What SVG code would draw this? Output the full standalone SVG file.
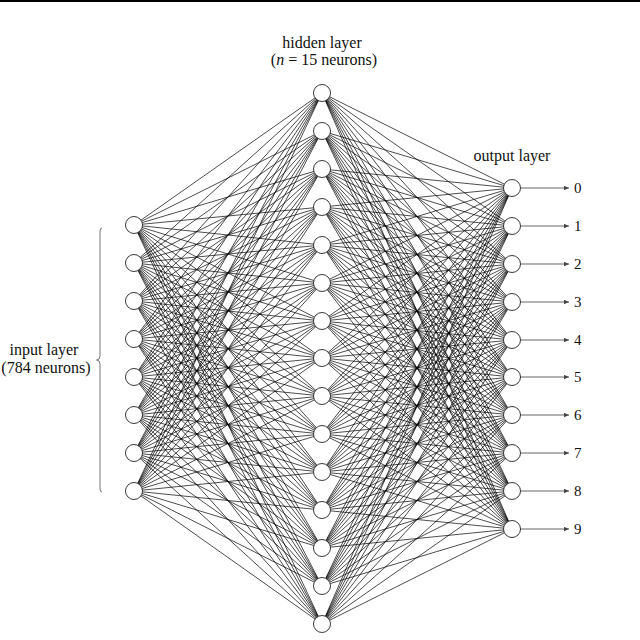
<svg xmlns="http://www.w3.org/2000/svg" width="640" height="640" viewBox="0 0 640 640">
<defs>
<style>
.e{stroke:#000;stroke-width:0.7;fill:none}
.n{fill:#fff;stroke:#222;stroke-width:0.9}
.t{font-family:"Liberation Serif","DejaVu Serif",serif;font-size:16px;fill:#111}
.d{font-family:"Liberation Serif","DejaVu Serif",serif;font-size:15px;fill:#111}
.a{stroke:#555;stroke-width:0.9;fill:none}
</style>
<marker id="ah" viewBox="0 0 5 5" refX="5" refY="2.5" markerWidth="5" markerHeight="5" markerUnits="userSpaceOnUse" orient="auto"><path d="M0,0.3 L5,2.5 L0,4.7 Z" fill="#444"/></marker>
</defs>
<rect width="640" height="640" fill="#fff"/>
<rect x="0" y="0" width="640" height="2" fill="#000"/>
<g id="connectors">
<g class="e">
<line x1="134" y1="225" x2="322" y2="93"/><line x1="134" y1="225" x2="322" y2="131"/><line x1="134" y1="225" x2="322" y2="169"/><line x1="134" y1="225" x2="322" y2="207"/><line x1="134" y1="225" x2="322" y2="245"/><line x1="134" y1="225" x2="322" y2="283"/><line x1="134" y1="225" x2="322" y2="321"/><line x1="134" y1="225" x2="322" y2="358"/><line x1="134" y1="225" x2="322" y2="396"/><line x1="134" y1="225" x2="322" y2="434"/><line x1="134" y1="225" x2="322" y2="472"/><line x1="134" y1="225" x2="322" y2="510"/><line x1="134" y1="225" x2="322" y2="548"/><line x1="134" y1="225" x2="322" y2="586"/><line x1="134" y1="225" x2="322" y2="624"/>
<line x1="134" y1="263" x2="322" y2="93"/><line x1="134" y1="263" x2="322" y2="131"/><line x1="134" y1="263" x2="322" y2="169"/><line x1="134" y1="263" x2="322" y2="207"/><line x1="134" y1="263" x2="322" y2="245"/><line x1="134" y1="263" x2="322" y2="283"/><line x1="134" y1="263" x2="322" y2="321"/><line x1="134" y1="263" x2="322" y2="358"/><line x1="134" y1="263" x2="322" y2="396"/><line x1="134" y1="263" x2="322" y2="434"/><line x1="134" y1="263" x2="322" y2="472"/><line x1="134" y1="263" x2="322" y2="510"/><line x1="134" y1="263" x2="322" y2="548"/><line x1="134" y1="263" x2="322" y2="586"/><line x1="134" y1="263" x2="322" y2="624"/>
<line x1="134" y1="301" x2="322" y2="93"/><line x1="134" y1="301" x2="322" y2="131"/><line x1="134" y1="301" x2="322" y2="169"/><line x1="134" y1="301" x2="322" y2="207"/><line x1="134" y1="301" x2="322" y2="245"/><line x1="134" y1="301" x2="322" y2="283"/><line x1="134" y1="301" x2="322" y2="321"/><line x1="134" y1="301" x2="322" y2="358"/><line x1="134" y1="301" x2="322" y2="396"/><line x1="134" y1="301" x2="322" y2="434"/><line x1="134" y1="301" x2="322" y2="472"/><line x1="134" y1="301" x2="322" y2="510"/><line x1="134" y1="301" x2="322" y2="548"/><line x1="134" y1="301" x2="322" y2="586"/><line x1="134" y1="301" x2="322" y2="624"/>
<line x1="134" y1="339" x2="322" y2="93"/><line x1="134" y1="339" x2="322" y2="131"/><line x1="134" y1="339" x2="322" y2="169"/><line x1="134" y1="339" x2="322" y2="207"/><line x1="134" y1="339" x2="322" y2="245"/><line x1="134" y1="339" x2="322" y2="283"/><line x1="134" y1="339" x2="322" y2="321"/><line x1="134" y1="339" x2="322" y2="358"/><line x1="134" y1="339" x2="322" y2="396"/><line x1="134" y1="339" x2="322" y2="434"/><line x1="134" y1="339" x2="322" y2="472"/><line x1="134" y1="339" x2="322" y2="510"/><line x1="134" y1="339" x2="322" y2="548"/><line x1="134" y1="339" x2="322" y2="586"/><line x1="134" y1="339" x2="322" y2="624"/>
<line x1="134" y1="377" x2="322" y2="93"/><line x1="134" y1="377" x2="322" y2="131"/><line x1="134" y1="377" x2="322" y2="169"/><line x1="134" y1="377" x2="322" y2="207"/><line x1="134" y1="377" x2="322" y2="245"/><line x1="134" y1="377" x2="322" y2="283"/><line x1="134" y1="377" x2="322" y2="321"/><line x1="134" y1="377" x2="322" y2="358"/><line x1="134" y1="377" x2="322" y2="396"/><line x1="134" y1="377" x2="322" y2="434"/><line x1="134" y1="377" x2="322" y2="472"/><line x1="134" y1="377" x2="322" y2="510"/><line x1="134" y1="377" x2="322" y2="548"/><line x1="134" y1="377" x2="322" y2="586"/><line x1="134" y1="377" x2="322" y2="624"/>
<line x1="134" y1="415" x2="322" y2="93"/><line x1="134" y1="415" x2="322" y2="131"/><line x1="134" y1="415" x2="322" y2="169"/><line x1="134" y1="415" x2="322" y2="207"/><line x1="134" y1="415" x2="322" y2="245"/><line x1="134" y1="415" x2="322" y2="283"/><line x1="134" y1="415" x2="322" y2="321"/><line x1="134" y1="415" x2="322" y2="358"/><line x1="134" y1="415" x2="322" y2="396"/><line x1="134" y1="415" x2="322" y2="434"/><line x1="134" y1="415" x2="322" y2="472"/><line x1="134" y1="415" x2="322" y2="510"/><line x1="134" y1="415" x2="322" y2="548"/><line x1="134" y1="415" x2="322" y2="586"/><line x1="134" y1="415" x2="322" y2="624"/>
<line x1="134" y1="453" x2="322" y2="93"/><line x1="134" y1="453" x2="322" y2="131"/><line x1="134" y1="453" x2="322" y2="169"/><line x1="134" y1="453" x2="322" y2="207"/><line x1="134" y1="453" x2="322" y2="245"/><line x1="134" y1="453" x2="322" y2="283"/><line x1="134" y1="453" x2="322" y2="321"/><line x1="134" y1="453" x2="322" y2="358"/><line x1="134" y1="453" x2="322" y2="396"/><line x1="134" y1="453" x2="322" y2="434"/><line x1="134" y1="453" x2="322" y2="472"/><line x1="134" y1="453" x2="322" y2="510"/><line x1="134" y1="453" x2="322" y2="548"/><line x1="134" y1="453" x2="322" y2="586"/><line x1="134" y1="453" x2="322" y2="624"/>
<line x1="134" y1="491" x2="322" y2="93"/><line x1="134" y1="491" x2="322" y2="131"/><line x1="134" y1="491" x2="322" y2="169"/><line x1="134" y1="491" x2="322" y2="207"/><line x1="134" y1="491" x2="322" y2="245"/><line x1="134" y1="491" x2="322" y2="283"/><line x1="134" y1="491" x2="322" y2="321"/><line x1="134" y1="491" x2="322" y2="358"/><line x1="134" y1="491" x2="322" y2="396"/><line x1="134" y1="491" x2="322" y2="434"/><line x1="134" y1="491" x2="322" y2="472"/><line x1="134" y1="491" x2="322" y2="510"/><line x1="134" y1="491" x2="322" y2="548"/><line x1="134" y1="491" x2="322" y2="586"/><line x1="134" y1="491" x2="322" y2="624"/>
<line x1="322" y1="93" x2="512" y2="188"/><line x1="322" y1="93" x2="512" y2="226"/><line x1="322" y1="93" x2="512" y2="264"/><line x1="322" y1="93" x2="512" y2="302"/><line x1="322" y1="93" x2="512" y2="340"/><line x1="322" y1="93" x2="512" y2="377"/><line x1="322" y1="93" x2="512" y2="415"/><line x1="322" y1="93" x2="512" y2="453"/><line x1="322" y1="93" x2="512" y2="491"/><line x1="322" y1="93" x2="512" y2="529"/>
<line x1="322" y1="131" x2="512" y2="188"/><line x1="322" y1="131" x2="512" y2="226"/><line x1="322" y1="131" x2="512" y2="264"/><line x1="322" y1="131" x2="512" y2="302"/><line x1="322" y1="131" x2="512" y2="340"/><line x1="322" y1="131" x2="512" y2="377"/><line x1="322" y1="131" x2="512" y2="415"/><line x1="322" y1="131" x2="512" y2="453"/><line x1="322" y1="131" x2="512" y2="491"/><line x1="322" y1="131" x2="512" y2="529"/>
<line x1="322" y1="169" x2="512" y2="188"/><line x1="322" y1="169" x2="512" y2="226"/><line x1="322" y1="169" x2="512" y2="264"/><line x1="322" y1="169" x2="512" y2="302"/><line x1="322" y1="169" x2="512" y2="340"/><line x1="322" y1="169" x2="512" y2="377"/><line x1="322" y1="169" x2="512" y2="415"/><line x1="322" y1="169" x2="512" y2="453"/><line x1="322" y1="169" x2="512" y2="491"/><line x1="322" y1="169" x2="512" y2="529"/>
<line x1="322" y1="207" x2="512" y2="188"/><line x1="322" y1="207" x2="512" y2="226"/><line x1="322" y1="207" x2="512" y2="264"/><line x1="322" y1="207" x2="512" y2="302"/><line x1="322" y1="207" x2="512" y2="340"/><line x1="322" y1="207" x2="512" y2="377"/><line x1="322" y1="207" x2="512" y2="415"/><line x1="322" y1="207" x2="512" y2="453"/><line x1="322" y1="207" x2="512" y2="491"/><line x1="322" y1="207" x2="512" y2="529"/>
<line x1="322" y1="245" x2="512" y2="188"/><line x1="322" y1="245" x2="512" y2="226"/><line x1="322" y1="245" x2="512" y2="264"/><line x1="322" y1="245" x2="512" y2="302"/><line x1="322" y1="245" x2="512" y2="340"/><line x1="322" y1="245" x2="512" y2="377"/><line x1="322" y1="245" x2="512" y2="415"/><line x1="322" y1="245" x2="512" y2="453"/><line x1="322" y1="245" x2="512" y2="491"/><line x1="322" y1="245" x2="512" y2="529"/>
<line x1="322" y1="283" x2="512" y2="188"/><line x1="322" y1="283" x2="512" y2="226"/><line x1="322" y1="283" x2="512" y2="264"/><line x1="322" y1="283" x2="512" y2="302"/><line x1="322" y1="283" x2="512" y2="340"/><line x1="322" y1="283" x2="512" y2="377"/><line x1="322" y1="283" x2="512" y2="415"/><line x1="322" y1="283" x2="512" y2="453"/><line x1="322" y1="283" x2="512" y2="491"/><line x1="322" y1="283" x2="512" y2="529"/>
<line x1="322" y1="321" x2="512" y2="188"/><line x1="322" y1="321" x2="512" y2="226"/><line x1="322" y1="321" x2="512" y2="264"/><line x1="322" y1="321" x2="512" y2="302"/><line x1="322" y1="321" x2="512" y2="340"/><line x1="322" y1="321" x2="512" y2="377"/><line x1="322" y1="321" x2="512" y2="415"/><line x1="322" y1="321" x2="512" y2="453"/><line x1="322" y1="321" x2="512" y2="491"/><line x1="322" y1="321" x2="512" y2="529"/>
<line x1="322" y1="358" x2="512" y2="188"/><line x1="322" y1="358" x2="512" y2="226"/><line x1="322" y1="358" x2="512" y2="264"/><line x1="322" y1="358" x2="512" y2="302"/><line x1="322" y1="358" x2="512" y2="340"/><line x1="322" y1="358" x2="512" y2="377"/><line x1="322" y1="358" x2="512" y2="415"/><line x1="322" y1="358" x2="512" y2="453"/><line x1="322" y1="358" x2="512" y2="491"/><line x1="322" y1="358" x2="512" y2="529"/>
<line x1="322" y1="396" x2="512" y2="188"/><line x1="322" y1="396" x2="512" y2="226"/><line x1="322" y1="396" x2="512" y2="264"/><line x1="322" y1="396" x2="512" y2="302"/><line x1="322" y1="396" x2="512" y2="340"/><line x1="322" y1="396" x2="512" y2="377"/><line x1="322" y1="396" x2="512" y2="415"/><line x1="322" y1="396" x2="512" y2="453"/><line x1="322" y1="396" x2="512" y2="491"/><line x1="322" y1="396" x2="512" y2="529"/>
<line x1="322" y1="434" x2="512" y2="188"/><line x1="322" y1="434" x2="512" y2="226"/><line x1="322" y1="434" x2="512" y2="264"/><line x1="322" y1="434" x2="512" y2="302"/><line x1="322" y1="434" x2="512" y2="340"/><line x1="322" y1="434" x2="512" y2="377"/><line x1="322" y1="434" x2="512" y2="415"/><line x1="322" y1="434" x2="512" y2="453"/><line x1="322" y1="434" x2="512" y2="491"/><line x1="322" y1="434" x2="512" y2="529"/>
<line x1="322" y1="472" x2="512" y2="188"/><line x1="322" y1="472" x2="512" y2="226"/><line x1="322" y1="472" x2="512" y2="264"/><line x1="322" y1="472" x2="512" y2="302"/><line x1="322" y1="472" x2="512" y2="340"/><line x1="322" y1="472" x2="512" y2="377"/><line x1="322" y1="472" x2="512" y2="415"/><line x1="322" y1="472" x2="512" y2="453"/><line x1="322" y1="472" x2="512" y2="491"/><line x1="322" y1="472" x2="512" y2="529"/>
<line x1="322" y1="510" x2="512" y2="188"/><line x1="322" y1="510" x2="512" y2="226"/><line x1="322" y1="510" x2="512" y2="264"/><line x1="322" y1="510" x2="512" y2="302"/><line x1="322" y1="510" x2="512" y2="340"/><line x1="322" y1="510" x2="512" y2="377"/><line x1="322" y1="510" x2="512" y2="415"/><line x1="322" y1="510" x2="512" y2="453"/><line x1="322" y1="510" x2="512" y2="491"/><line x1="322" y1="510" x2="512" y2="529"/>
<line x1="322" y1="548" x2="512" y2="188"/><line x1="322" y1="548" x2="512" y2="226"/><line x1="322" y1="548" x2="512" y2="264"/><line x1="322" y1="548" x2="512" y2="302"/><line x1="322" y1="548" x2="512" y2="340"/><line x1="322" y1="548" x2="512" y2="377"/><line x1="322" y1="548" x2="512" y2="415"/><line x1="322" y1="548" x2="512" y2="453"/><line x1="322" y1="548" x2="512" y2="491"/><line x1="322" y1="548" x2="512" y2="529"/>
<line x1="322" y1="586" x2="512" y2="188"/><line x1="322" y1="586" x2="512" y2="226"/><line x1="322" y1="586" x2="512" y2="264"/><line x1="322" y1="586" x2="512" y2="302"/><line x1="322" y1="586" x2="512" y2="340"/><line x1="322" y1="586" x2="512" y2="377"/><line x1="322" y1="586" x2="512" y2="415"/><line x1="322" y1="586" x2="512" y2="453"/><line x1="322" y1="586" x2="512" y2="491"/><line x1="322" y1="586" x2="512" y2="529"/>
<line x1="322" y1="624" x2="512" y2="188"/><line x1="322" y1="624" x2="512" y2="226"/><line x1="322" y1="624" x2="512" y2="264"/><line x1="322" y1="624" x2="512" y2="302"/><line x1="322" y1="624" x2="512" y2="340"/><line x1="322" y1="624" x2="512" y2="377"/><line x1="322" y1="624" x2="512" y2="415"/><line x1="322" y1="624" x2="512" y2="453"/><line x1="322" y1="624" x2="512" y2="491"/><line x1="322" y1="624" x2="512" y2="529"/>
</g>
<g class="a" marker-end="url(#ah)">
<line x1="520" y1="188" x2="569" y2="188"/><line x1="520" y1="226" x2="569" y2="226"/><line x1="520" y1="264" x2="569" y2="264"/><line x1="520" y1="302" x2="569" y2="302"/><line x1="520" y1="340" x2="569" y2="340"/><line x1="520" y1="377" x2="569" y2="377"/><line x1="520" y1="415" x2="569" y2="415"/><line x1="520" y1="453" x2="569" y2="453"/><line x1="520" y1="491" x2="569" y2="491"/><line x1="520" y1="529" x2="569" y2="529"/>
</g>
</g>
<g id="input-layer">
<circle class="n" cx="134" cy="225" r="8.5"/><circle class="n" cx="134" cy="263" r="8.5"/><circle class="n" cx="134" cy="301" r="8.5"/><circle class="n" cx="134" cy="339" r="8.5"/><circle class="n" cx="134" cy="377" r="8.5"/><circle class="n" cx="134" cy="415" r="8.5"/><circle class="n" cx="134" cy="453" r="8.5"/><circle class="n" cx="134" cy="491" r="8.5"/>
<path d="M102,228 Q100,228 100,231 L100,356 Q100,360 96.5,360 Q100,360 100,364 L100,489 Q100,492 102,492" fill="none" stroke="#666" stroke-width="0.9"/>
<text class="t" x="44" y="355" text-anchor="middle">input layer</text>
<text class="t" x="46" y="373" text-anchor="middle">(784 neurons)</text>
</g>
<g id="hidden-layer">
<circle class="n" cx="322" cy="93" r="8.5"/><circle class="n" cx="322" cy="131" r="8.5"/><circle class="n" cx="322" cy="169" r="8.5"/><circle class="n" cx="322" cy="207" r="8.5"/><circle class="n" cx="322" cy="245" r="8.5"/><circle class="n" cx="322" cy="283" r="8.5"/><circle class="n" cx="322" cy="321" r="8.5"/><circle class="n" cx="322" cy="358" r="8.5"/><circle class="n" cx="322" cy="396" r="8.5"/><circle class="n" cx="322" cy="434" r="8.5"/><circle class="n" cx="322" cy="472" r="8.5"/><circle class="n" cx="322" cy="510" r="8.5"/><circle class="n" cx="322" cy="548" r="8.5"/><circle class="n" cx="322" cy="586" r="8.5"/><circle class="n" cx="322" cy="624" r="8.5"/>
<text class="t" x="322" y="48" text-anchor="middle">hidden layer</text>
<text class="t" x="324" y="65" text-anchor="middle">(<tspan font-style="italic">n</tspan> = 15 neurons)</text>
</g>
<g id="output-layer">
<circle class="n" cx="512" cy="188" r="8.5"/><circle class="n" cx="512" cy="226" r="8.5"/><circle class="n" cx="512" cy="264" r="8.5"/><circle class="n" cx="512" cy="302" r="8.5"/><circle class="n" cx="512" cy="340" r="8.5"/><circle class="n" cx="512" cy="377" r="8.5"/><circle class="n" cx="512" cy="415" r="8.5"/><circle class="n" cx="512" cy="453" r="8.5"/><circle class="n" cx="512" cy="491" r="8.5"/><circle class="n" cx="512" cy="529" r="8.5"/>
<text class="t" x="512" y="161" text-anchor="middle">output layer</text>
<text class="d" x="574" y="193">0</text><text class="d" x="574" y="231">1</text><text class="d" x="574" y="269">2</text><text class="d" x="574" y="307">3</text><text class="d" x="574" y="345">4</text><text class="d" x="574" y="382">5</text><text class="d" x="574" y="420">6</text><text class="d" x="574" y="458">7</text><text class="d" x="574" y="496">8</text><text class="d" x="574" y="534">9</text>
</g>
</svg>
